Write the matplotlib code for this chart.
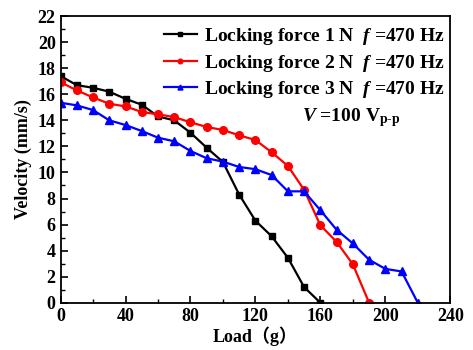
import matplotlib
matplotlib.use("Agg")
import matplotlib.pyplot as plt

plt.rcParams['font.family'] = ['Liberation Serif', 'Noto Sans CJK SC']
plt.rcParams['font.weight'] = 'bold'
plt.rcParams['mathtext.fontset'] = 'custom'
plt.rcParams['mathtext.it'] = 'Liberation Serif:bold:italic'
plt.rcParams['mathtext.rm'] = 'Liberation Serif:bold'
plt.rcParams['mathtext.bf'] = 'Liberation Serif:bold'

# load (g) and velocity (mm/s) for each locking force
load_1n = [0, 10, 20, 30, 40, 50, 60, 70, 80, 90, 100, 110, 120, 130, 140, 150, 160]
vel_1n = [17.4, 16.7, 16.5, 16.2, 15.65, 15.2, 14.3, 14.0, 13.05, 11.9, 10.8, 8.3, 6.3, 5.1, 3.45, 1.2, 0.0]

load_2n = [0, 10, 20, 30, 40, 50, 60, 70, 80, 90, 100, 110, 120, 130, 140, 150, 160, 170, 180, 190]
vel_2n = [16.93, 16.3, 15.76, 15.27, 15.07, 14.64, 14.46, 14.25, 13.85, 13.49, 13.26, 12.85, 12.49,
          11.55, 10.5, 8.66, 5.95, 4.67, 2.95, 0.0]

load_3n = [0, 10, 20, 30, 40, 50, 60, 70, 80, 90, 100, 110, 120, 130, 140, 150, 160, 170, 180,
           190, 200, 210, 220]
vel_3n = [15.35, 15.15, 14.79, 14.0, 13.64, 13.18, 12.67, 12.39, 11.65, 11.09, 10.83, 10.42, 10.25,
          9.8, 8.55, 8.55, 7.1, 5.6, 4.55, 3.3, 2.6, 2.4, 0.0]

labels = [r'Locking force 1 N  $f$ =470 Hz',
          r'Locking force 2 N  $f$ =470 Hz',
          r'Locking force 3 N  $f$ =470 Hz']

fig = plt.figure(figsize=(4.73, 3.5), dpi=100)
ax = fig.add_axes([0.128, 0.135, 0.824, 0.819])

ax.plot(load_1n, vel_1n, color='black', marker='s', markersize=5, lw=1.6, label=labels[0])
ax.plot(load_2n, vel_2n, color='red', marker='o', markersize=5.5, lw=1.6, label=labels[1])
ax.plot(load_3n, vel_3n, color='blue', marker='^', markersize=6, lw=1.6, label=labels[2])

ax.set_xlim(0, 240)
ax.set_ylim(0, 22)
ax.set_xticks(range(0, 241, 40))
ax.set_xticks(range(20, 240, 40), minor=True)
ax.set_yticks(range(0, 23, 2))
ax.set_yticks(range(1, 22, 2), minor=True)
ax.tick_params(which='both', direction='in', top=False, right=False, labelsize=13)
ax.tick_params(which='major', length=5, width=1.2)
ax.tick_params(which='minor', length=3, width=1.0)
for s in ax.spines.values():
    s.set_linewidth(1.3)

ax.set_xlabel('Load（g）', fontsize=13, fontweight='bold', labelpad=1)
ax.set_ylabel('Velocity (mm/s)', fontsize=13, fontweight='bold', labelpad=4)

leg = ax.legend(loc='upper right', bbox_to_anchor=(0.985, 0.965), frameon=False,
                handlelength=1.7, handletextpad=0.35, labelspacing=0.28,
                borderaxespad=0, borderpad=0, markerscale=0.6,
                prop={'weight': 'bold', 'size': 14})

ax.text(0.619, 0.634, r'$V$ =100 V$_{\mathrm{p\text{-}p}}$', transform=ax.transAxes,
        fontsize=14, fontweight='bold', ha='left', va='baseline')

fig.savefig('out.png', dpi=100)
